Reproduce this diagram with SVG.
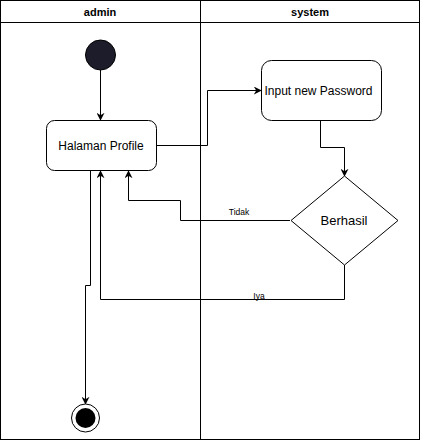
<svg xmlns="http://www.w3.org/2000/svg" width="421" height="441" viewBox="0 0 421 441">
<defs>
<marker id="arr" viewBox="0 0 10 10" refX="9" refY="5" markerWidth="8" markerHeight="8" markerUnits="userSpaceOnUse" orient="auto">
<path d="M0,0 L10,5 L0,10 L3,5 Z" fill="#000"/>
</marker>
<style>
.lane{fill:none;stroke:#000;stroke-width:1}
.hdr{font-family:"Liberation Sans",Arial,sans-serif;font-size:11px;font-weight:bold;fill:#000;text-anchor:middle}
.node{fill:#fff;stroke:#000;stroke-width:1}
.txt{font-family:"Liberation Sans",Arial,sans-serif;font-size:12px;fill:#000;text-anchor:middle;dominant-baseline:central}
.lbl{font-family:"Liberation Sans",Arial,sans-serif;font-size:8.5px;fill:#000;text-anchor:middle}
.edge{fill:none;stroke:#000;stroke-width:1}
</style>
</defs>
<rect width="421" height="441" fill="#fff"/>
<g id="lanes">
<rect class="lane" x="0.5" y="0.5" width="419" height="439"/>
<line class="lane" x1="0.5" y1="22.5" x2="419.5" y2="22.5"/>
<line class="lane" x1="200.5" y1="0.5" x2="200.5" y2="439.5"/>
<text class="hdr" x="100" y="16">admin</text>
<text class="hdr" x="310" y="16">system</text>
</g>
<g id="connectors">
<path class="edge" d="M100.5,70 L100.5,120" marker-end="url(#arr)"/>
<path class="edge" d="M156,145.5 L207.5,145.5 L207.5,90.5 L261,90.5" marker-end="url(#arr)"/>
<path class="edge" d="M320.5,120 L320.5,147.5 L344.5,147.5 L344.5,176" marker-end="url(#arr)"/>
<path class="edge" d="M290,220.5 L180.5,220.5 L180.5,200.5 L128.5,200.5 L128.5,171" marker-end="url(#arr)"/>
<path class="edge" d="M344.5,265 L344.5,299.5 L100.5,299.5 L100.5,171" marker-end="url(#arr)"/>
<path class="edge" d="M90.5,171 L90.5,285.5 L85.5,285.5 L85.5,404" marker-end="url(#arr)"/>
<text class="lbl" x="239" y="215">Tidak</text>
<text class="lbl" x="259" y="299">Iya</text>
</g>
<g id="start">
<circle cx="100.5" cy="55" r="15" fill="#1c1c2a" stroke="#000"/>
</g>
<g id="halaman-profile">
<rect class="node" x="46.5" y="120.5" width="110" height="50" rx="8"/>
<text class="txt" x="101" y="145.5">Halaman Profile</text>
</g>
<g id="input-password">
<rect class="node" x="261.5" y="60.5" width="120" height="60" rx="10"/>
<text class="txt" x="318.5" y="90.5">Input new Password</text>
</g>
<g id="berhasil">
<path class="node" d="M344.5,176 L398,220.5 L344.5,265 L291,220.5 Z"/>
<text class="txt" x="344" y="220.5" style="font-size:13px">Berhasil</text>
</g>
<g id="end">
<circle cx="85.5" cy="418" r="14" fill="#fff" stroke="#000"/>
<circle cx="85.5" cy="418" r="10" fill="#000"/>
</g>
</svg>
